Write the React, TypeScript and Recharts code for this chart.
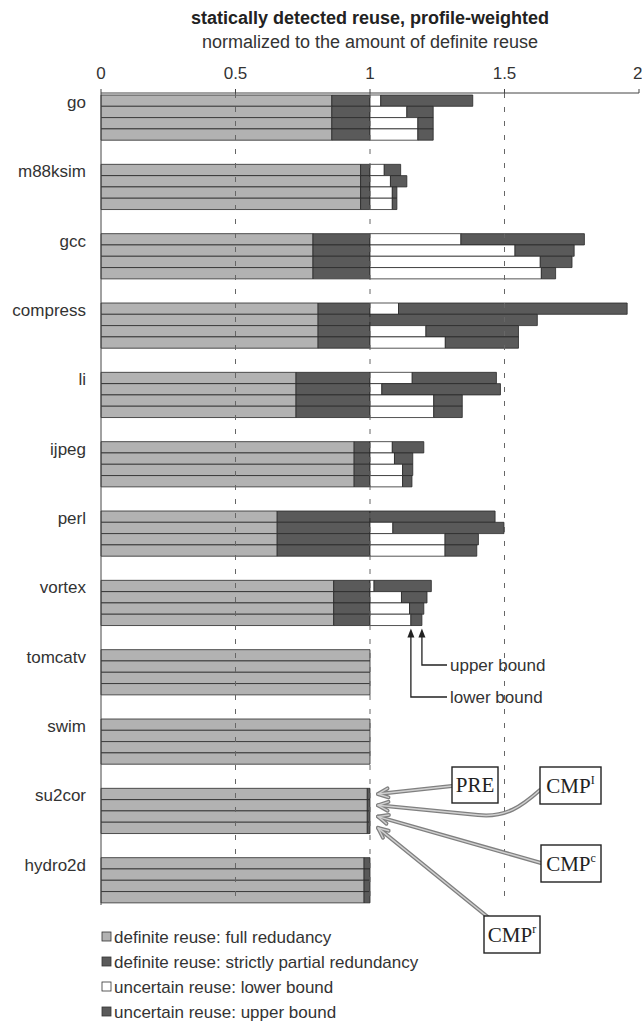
import React from "react";
import { BarChart, Bar, XAxis, YAxis, ReferenceLine } from "recharts";

const benchmarks = ["go", "m88ksim", "gcc", "compress", "li", "ijpeg", "perl", "vortex", "tomcatv", "swim", "su2cor", "hydro2d"];
const variants = ["PRE", "CMPI", "CMPc", "CMPr"];
const xTicks = [0, 0.5, 1, 1.5, 2];

// share of the definite reuse that is full redundancy (rest is strictly partial)
const fullRedundancy = [0.858, 0.965, 0.788, 0.807, 0.725, 0.941, 0.655, 0.865, 1.0, 1.0, 0.99, 0.978];

// uncertain reuse, lower and upper bound (total, normalized)
const lowerPRE = [1.04, 1.053, 1.338, 1.106, 1.157, 1.083, 1.0, 1.015, 1, 1, 1, 1];
const upperPRE = [1.382, 1.114, 1.797, 1.956, 1.47, 1.2, 1.465, 1.228, 1, 1, 1, 1];
const lowerCMPI = [1.137, 1.076, 1.539, 1.0, 1.044, 1.091, 1.085, 1.117, 1, 1, 1, 1];
const upperCMPI = [1.235, 1.137, 1.759, 1.622, 1.485, 1.159, 1.498, 1.212, 1, 1, 1, 1];
const lowerCMPc = [1.178, 1.083, 1.633, 1.208, 1.237, 1.121, 1.279, 1.147, 1, 1, 1, 1];
const upperCMPc = [1.235, 1.1, 1.751, 1.552, 1.343, 1.159, 1.403, 1.2, 1, 1, 1, 1];
const lowerCMPr = [1.178, 1.083, 1.637, 1.28, 1.237, 1.121, 1.279, 1.152, 1, 1, 1, 1];
const upperCMPr = [1.235, 1.1, 1.69, 1.552, 1.343, 1.156, 1.397, 1.193, 1, 1, 1, 1];

const lowerBound: Record<string, number[]> = { PRE: lowerPRE, CMPI: lowerCMPI, CMPc: lowerCMPc, CMPr: lowerCMPr };
const upperBound: Record<string, number[]> = { PRE: upperPRE, CMPI: upperCMPI, CMPc: upperCMPc, CMPr: upperCMPr };

const legendLabels = [
  "definite reuse: full redudancy",
  "definite reuse: strictly partial redundancy",
  "uncertain reuse: lower bound",
  "uncertain reuse: upper bound",
];

const FULL = "#b2b2b2";
const DARK = "#5a5a5a";
const LOW = "#ffffff";
const legendColors = [FULL, DARK, LOW, DARK];
const segments = ["full", "part", "low", "up"];

const rows = benchmarks.map((name, i) => {
  const row: Record<string, any> = { name };
  variants.forEach((v) => {
    row[`${v}_full`] = fullRedundancy[i];
    row[`${v}_part`] = 1 - fullRedundancy[i];
    row[`${v}_low`] = lowerBound[v][i] - 1;
    row[`${v}_up`] = upperBound[v][i] - lowerBound[v][i];
  });
  return row;
});

// layout
const W = 642;
const H = 1023;
const PLOT_LEFT = 101;
const PLOT_RIGHT = 639;
const PLOT_TOP = 93;
const PLOT_BOTTOM = 905;
const BAND_PAD = -10;
const CAT_GAP = 12;
const BAR_H = 11.3;
const BAND = (PLOT_BOTTOM - PLOT_TOP - 2 * BAND_PAD) / benchmarks.length;
const xPx = (v: number) => PLOT_LEFT + (v / 2) * (PLOT_RIGHT - PLOT_LEFT);
const groupTop = (i: number) => PLOT_TOP + BAND_PAD + i * BAND + CAT_GAP;
const barMid = (i: number, j: number) => groupTop(i) + (j + 0.5) * BAR_H;

const SANS = "'Liberation Sans', Arial, Helvetica, sans-serif";
const SERIF = "'Liberation Serif', 'Times New Roman', serif";

const CategoryTick = (props: any) => {
  const { y, payload } = props;
  return (
    <text x={PLOT_LEFT - 15} y={y - 9.7} textAnchor="end" fontSize={17} fontFamily={SANS} fill="#333">
      {payload.value}
    </text>
  );
};

function head(x: number, y: number, fx: number, fy: number, size: number) {
  const a = Math.atan2(y - fy, x - fx);
  const p1 = [x - size * Math.cos(a - 0.42), y - size * Math.sin(a - 0.42)];
  const p2 = [x - size * Math.cos(a + 0.42), y - size * Math.sin(a + 0.42)];
  return `${p1[0]},${p1[1]} ${x},${y} ${p2[0]},${p2[1]}`;
}

const GrayArrow = ({ d, tip, from }: { d: string; tip: number[]; from: number[] }) => {
  const pts = head(tip[0], tip[1], from[0], from[1], 11);
  return (
    <g fill="none" strokeLinecap="round" strokeLinejoin="round">
      <path d={d} stroke="#808080" strokeWidth={4} />
      <polyline points={pts} stroke="#808080" strokeWidth={4} />
      <path d={d} stroke="#d0d0d0" strokeWidth={1.4} />
      <polyline points={pts} stroke="#d0d0d0" strokeWidth={1.4} />
    </g>
  );
};

const Box = ({ x, y, w, h, label, sup }: { x: number; y: number; w: number; h: number; label: string; sup?: string }) => (
  <g>
    <rect x={x} y={y} width={w} height={h} fill="#fff" stroke="#222" strokeWidth={1.4} />
    <text x={x + w / 2} y={y + h / 2 + 7} textAnchor="middle" fontFamily={SERIF} fontSize={21} fill="#222">
      {label}
      {sup && (
        <tspan fontSize={12} dy={-9}>
          {sup}
        </tspan>
      )}
    </text>
  </g>
);

const Annotations = () => {
  const v = benchmarks.indexOf("vortex");
  const su = benchmarks.indexOf("su2cor");
  const upX = xPx(upperCMPr[v]);
  const loX = xPx(lowerCMPr[v]);
  const tipY = groupTop(v) + 4 * BAR_H + 3;
  const tipX = xPx(1) + 8;
  return (
    <svg width={W} height={H} style={{ position: "absolute", left: 0, top: 0, pointerEvents: "none" }}>
      <text x={xPx(1)} y={24} textAnchor="middle" fontFamily={SANS} fontWeight="bold" fontSize={18} fill="#222">
        statically detected reuse, profile-weighted
      </text>
      <text x={xPx(1)} y={48} textAnchor="middle" fontFamily={SANS} fontSize={18} fill="#333">
        normalized to the amount of definite reuse
      </text>

      <g stroke="#222" strokeWidth={1.3} fill="none">
        <path d={`M${upX},${tipY + 4} L${upX},665 L447,665`} />
        <path d={`M${loX},${tipY + 4} L${loX},697 L447,697`} />
      </g>
      <polygon points={`${upX},${tipY} ${upX - 3.5},${tipY + 9} ${upX + 3.5},${tipY + 9}`} fill="#222" />
      <polygon points={`${loX},${tipY} ${loX - 3.5},${tipY + 9} ${loX + 3.5},${tipY + 9}`} fill="#222" />
      <text x={450} y={671} fontFamily={SANS} fontSize={17} fill="#333">upper bound</text>
      <text x={450} y={703} fontFamily={SANS} fontSize={17} fill="#333">lower bound</text>

      <GrayArrow d={`M452,786 L${tipX},${barMid(su, 0)}`} tip={[tipX, barMid(su, 0)]} from={[452, 786]} />
      <GrayArrow
        d={`M540,790 C522,806 506,818 478,815 L${tipX},${barMid(su, 1)}`}
        tip={[tipX, barMid(su, 1)]}
        from={[478, 815]}
      />
      <GrayArrow d={`M541,863 L${tipX},${barMid(su, 2)}`} tip={[tipX, barMid(su, 2)]} from={[541, 863]} />
      <GrayArrow d={`M489,918 L${tipX},${barMid(su, 3)}`} tip={[tipX, barMid(su, 3)]} from={[489, 918]} />

      <Box x={452} y={767} w={46} h={36} label="PRE" />
      <Box x={540} y={767} w={61} h={37} label="CMP" sup="I" />
      <Box x={541} y={845} w={60} h={37} label="CMP" sup="c" />
      <Box x={484} y={916} w={56} h={37} label="CMP" sup="r" />

      {legendLabels.map((label, k) => {
        const cy = 937 + k * 25;
        return (
          <g key={label}>
            <rect x={PLOT_LEFT + 1} y={cy - 5} width={9} height={9} fill={legendColors[k]} stroke="#333" strokeWidth={0.8} />
            <text x={PLOT_LEFT + 13} y={cy + 6} fontFamily={SANS} fontSize={17} fill="#333">
              {label}
            </text>
          </g>
        );
      })}
    </svg>
  );
};

const fills: Record<string, string> = { full: FULL, part: DARK, low: LOW, up: DARK };

export default function App() {
  return (
    <div style={{ position: "absolute", left: 0, top: 0, width: W, height: H, background: "#fff" }}>
      <BarChart
        width={W}
        height={H}
        data={rows}
        layout="vertical"
        barGap={0}
        barSize={BAR_H}
        margin={{ top: PLOT_TOP - 30, right: W - PLOT_RIGHT, bottom: H - PLOT_BOTTOM, left: 0 }}
      >
        <ReferenceLine x={0.5} stroke="#666" strokeDasharray="5 9" />
        <ReferenceLine x={1} stroke="#666" strokeDasharray="5 9" />
        <ReferenceLine x={1.5} stroke="#666" strokeDasharray="5 9" />
        <XAxis
          type="number"
          orientation="top"
          domain={[0, 2]}
          ticks={xTicks}
          height={30}
          tickSize={4}
          tickMargin={10}
          stroke="#444"
          tick={{ fill: "#333", fontSize: 17, fontFamily: SANS }}
          tickFormatter={(t: number) => String(t)}
        />
        <YAxis
          type="category"
          dataKey="name"
          width={PLOT_LEFT}
          tickLine={false}
          stroke="#444"
          padding={{ top: BAND_PAD, bottom: BAND_PAD }}
          tick={<CategoryTick />}
          interval={0}
        />
        {variants.map((v) =>
          segments.map((s) => (
            <Bar
              key={`${v}_${s}`}
              dataKey={`${v}_${s}`}
              stackId={v}
              fill={fills[s]}
              stroke="#2a2a2a"
              strokeWidth={0.8}
              isAnimationActive={false}
            />
          ))
        )}
      </BarChart>
      <Annotations />
    </div>
  );
}
